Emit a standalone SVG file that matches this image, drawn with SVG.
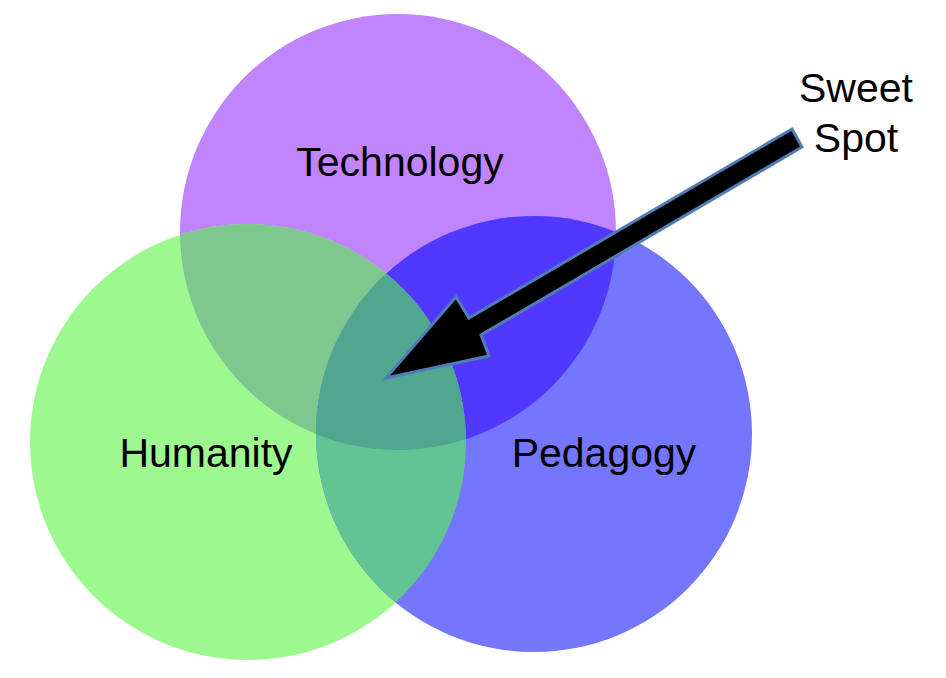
<svg xmlns="http://www.w3.org/2000/svg" width="946" height="678" viewBox="0 0 946 678">
<style>
.lbl{font-family:"Liberation Sans",Arial,Helvetica,sans-serif;font-size:41px;fill:#000;text-anchor:middle}
</style>
<defs>
<clipPath id="cT"><circle cx="398" cy="232" r="218"/></clipPath>
<clipPath id="cH"><circle cx="248" cy="442" r="218"/></clipPath>
<clipPath id="cP"><circle cx="534" cy="434" r="218"/></clipPath>
</defs>
<rect width="946" height="678" fill="#fff"/>
<g id="technology">
<circle cx="398" cy="232" r="218" fill="#C084FC"/>
</g>
<g id="humanity">
<circle cx="248" cy="442" r="218" fill="#9DF88F"/>
</g>
<g id="pedagogy">
<circle cx="534" cy="434" r="218" fill="#7476FC"/>
</g>
<g id="overlaps">
<circle cx="248" cy="442" r="218" fill="#7EC78E" clip-path="url(#cT)"/>
<circle cx="534" cy="434" r="218" fill="#5038FF" clip-path="url(#cT)"/>
<circle cx="534" cy="434" r="218" fill="#62C493" clip-path="url(#cH)"/>
<g clip-path="url(#cT)"><circle cx="534" cy="434" r="218" fill="#51A690" clip-path="url(#cH)"/></g>
</g>
<g id="labels">
<text class="lbl" x="400" y="176">Technology</text>
<text class="lbl" x="206" y="467">Humanity</text>
<text class="lbl" x="604" y="467">Pedagogy</text>
</g>
<g id="sweet-spot">
<text class="lbl" x="856" y="102">Sweet</text>
<text class="lbl" x="856" y="152">Spot</text>
</g>
<g id="connectors">
<polygon points="792,129 802,147 481,335 489,356 386,378 456,297 469,318" fill="#000" stroke="#4F7DB8" stroke-width="3" stroke-linejoin="miter"/>
</g>
</svg>
